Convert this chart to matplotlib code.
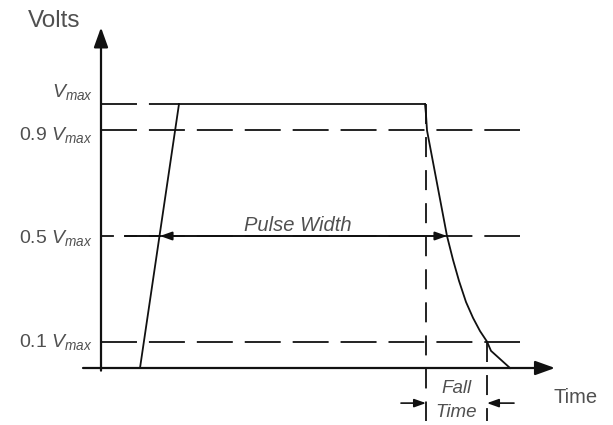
"""Pulse timing diagram: pulse width and fall time measured on the voltage levels."""

import matplotlib

matplotlib.use("Agg")

import matplotlib.pyplot as plt

plt.rcParams["font.family"] = ["Liberation Sans", "DejaVu Sans"]
plt.rcParams["mathtext.fontset"] = "custom"
plt.rcParams["mathtext.rm"] = "Liberation Sans"
plt.rcParams["mathtext.it"] = "Liberation Sans:italic"
plt.rcParams["lines.scale_dashes"] = False

# voltage levels as fractions of Vmax, with their labels
levels = [1.0, 0.9, 0.5, 0.1]
level_labels = [r"$V_{max}$", r"0.9 $V_{max}$", r"0.5 $V_{max}$", r"0.1 $V_{max}$"]

# pulse outline (time in arbitrary units, volts as fraction of Vmax)
rise_t = [0.39, 0.78]
rise_v = [0.0, 1.0]
top_t = [0.78, 3.24]
top_v = [1.0, 1.0]
fall_t = [3.24, 3.25, 3.26, 3.30, 3.35, 3.40, 3.46, 3.52, 3.58, 3.65, 3.72, 3.79, 3.86, 3.90, 4.09]
fall_v = [1.0, 0.96, 0.90, 0.82, 0.72, 0.62, 0.50, 0.41, 0.33, 0.25, 0.19, 0.14, 0.10, 0.065, 0.0]

# times where the measurements are taken
t_end = 4.19        # right end of the level lines
t_pw_tail = 0.24    # left end of the solid pulse-width line
t_pw_start = 0.59   # rise crosses 0.5 Vmax
t_pw_end = 3.46     # fall crosses 0.5 Vmax
t_fall_start = 3.25  # fall leaves Vmax
t_fall_end = 3.86    # fall reaches 0.1 Vmax

INK = "#111111"
TXT = "#505050"
DASH_ON, DASH_OFF = 25.9, 8.6  # points
PT_PER_T = 72.0                # 100 px per time unit at 100 dpi

fig = plt.figure(figsize=(6.13, 4.25), dpi=100)
ax = fig.add_axes([0, 0, 1, 1])
ax.set_xlim(-1.01, 5.12)
ax.set_ylim(-57 / 264, 368 / 264)
ax.axis("off")

# axes with arrow heads
ax_arrow = dict(arrowstyle="-|>,head_length=1.0,head_width=0.36",
                mutation_scale=12, lw=1.6, color=INK, shrinkA=0, shrinkB=0)
ax.annotate("", xy=(0, 1.29), xytext=(0, -0.01), arrowprops=ax_arrow)
ax.annotate("", xy=(4.54, 0), xytext=(-0.18, 0), arrowprops=ax_arrow)
ax.text(-0.73, 1.292, "Volts", fontsize=17.5, color=TXT, ha="left", va="baseline")
ax.text(4.52, -0.133, "Time", fontsize=14.5, color=TXT, ha="left", va="baseline")

# dashed level lines and their labels
label_y = [1.027, 0.864, 0.473, 0.08]
for lv, lab, ly in zip(levels, level_labels, label_y):
    if lv == 1.0:
        ax.plot([0, rise_t[1]], [lv, lv], color=INK, lw=1.3, dashes=(DASH_ON, DASH_OFF))
    elif lv == 0.5:
        # short dash next to the axis, then the rest keeps the same dash phase
        ax.plot([0, 0.12], [lv, lv], color=INK, lw=1.3)
        ax.plot([t_pw_tail, t_end], [lv, lv], color=INK, lw=1.3,
                linestyle=(t_pw_tail * PT_PER_T, (DASH_ON, DASH_OFF)))
    else:
        ax.plot([0, t_end], [lv, lv], color=INK, lw=1.3, dashes=(DASH_ON, DASH_OFF))
    ax.text(-0.08, ly, lab, fontsize=14, color=TXT, ha="right", va="baseline")

# vertical dashed markers for the fall time
ax.plot([t_fall_start, t_fall_start], [1.0, -0.2], color=INK, lw=1.3, dashes=(14.4, 9.4))
ax.plot([t_fall_end, t_fall_end], [0.1, -0.2], color=INK, lw=1.3, dashes=(14.4, 9.4))

# pulse
ax.plot(rise_t, rise_v, color=INK, lw=1.3)
ax.plot(top_t, top_v, color=INK, lw=1.3)
ax.plot(fall_t, fall_v, color=INK, lw=1.3)

# pulse width arrow
pw_arrow = dict(arrowstyle="<|-|>,head_length=0.7,head_width=0.25",
                mutation_scale=10, lw=1.4, color=INK, shrinkA=0, shrinkB=0)
ax.annotate("", xy=(t_pw_start, 0.5), xytext=(t_pw_end, 0.5), arrowprops=pw_arrow)
ax.plot([t_pw_tail, t_pw_start], [0.5, 0.5], color=INK, lw=1.4)
ax.text((t_pw_start + t_pw_end) / 2 - 0.06, 0.519, "Pulse Width", fontsize=14.5,
        style="italic", color=TXT, ha="center", va="baseline")

# fall time arrows
ft_arrow = dict(arrowstyle="-|>,head_length=0.7,head_width=0.25",
                mutation_scale=10, lw=1.2, color=INK, shrinkA=0, shrinkB=0)
ax.annotate("", xy=(t_fall_start, -0.133), xytext=(t_fall_start - 0.25, -0.133),
            arrowprops=ft_arrow)
ax.annotate("", xy=(t_fall_end, -0.133), xytext=(t_fall_end + 0.27, -0.133),
            arrowprops=ft_arrow)
t_mid = (t_fall_start + t_fall_end) / 2
ax.text(t_mid, -0.095, "Fall", fontsize=13.5, style="italic", color=TXT,
        ha="center", va="baseline")
ax.text(t_mid, -0.186, "Time", fontsize=13.5, style="italic", color=TXT,
        ha="center", va="baseline")

fig.savefig("out.png", dpi=100, facecolor="white")
